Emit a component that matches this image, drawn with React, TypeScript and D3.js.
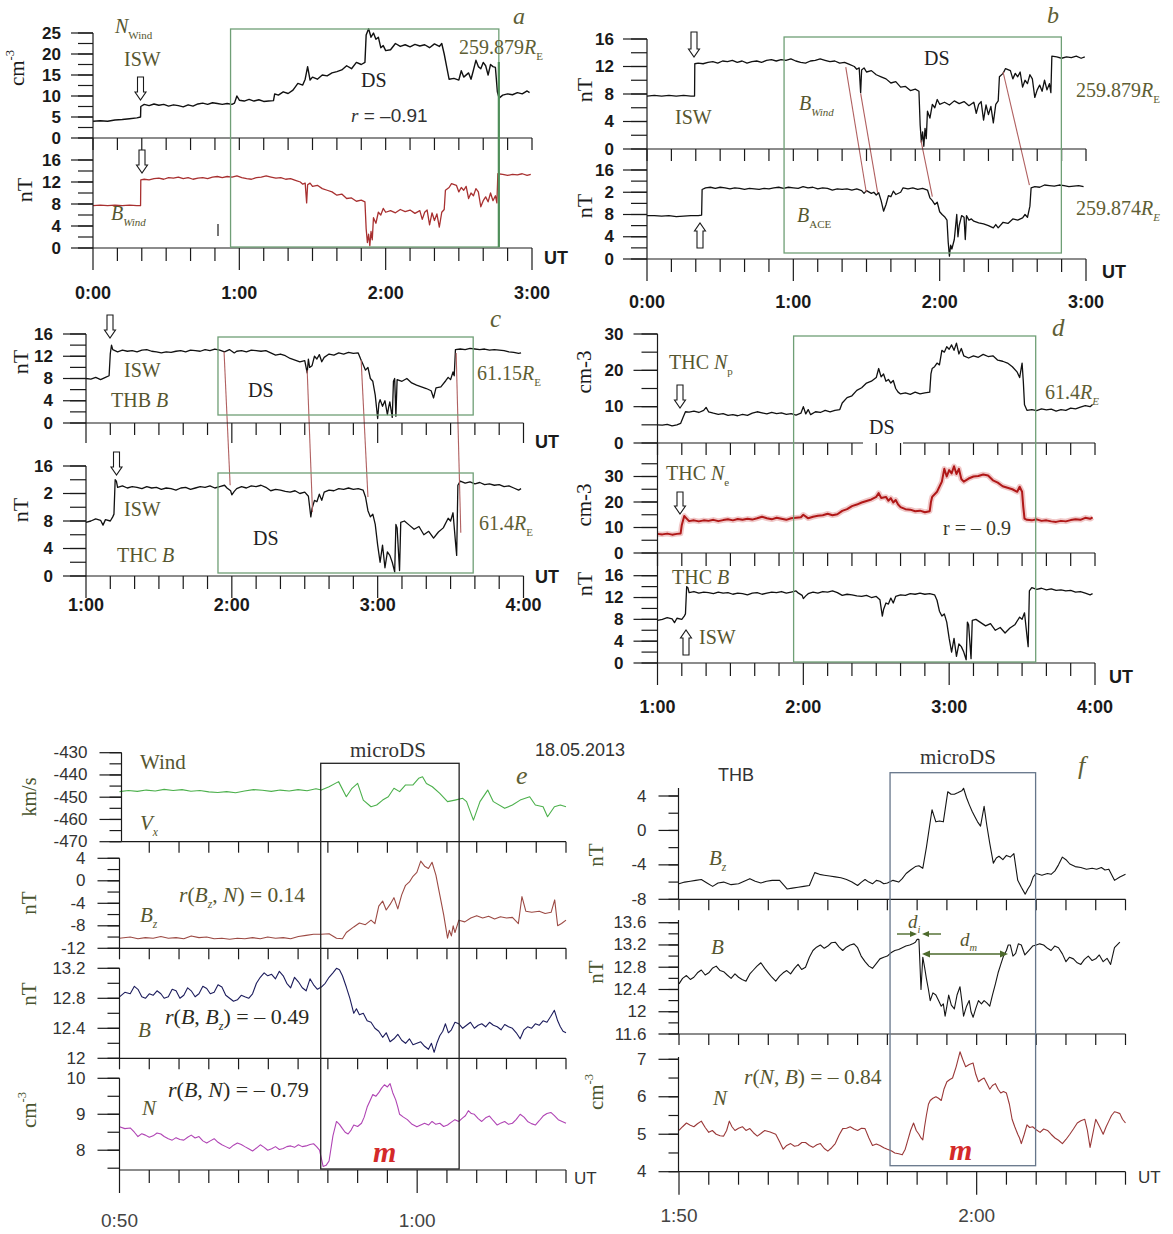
import React from "react";
import * as d3 from "d3";

type Pt = [number, number];

// ---------------- DATA (time in minutes from panel start) ----------------
const nWind: Pt[] = [[0,4.0],[3,4.1],[6,4.0],[9,4.3],[12,4.4],[15,4.6],[18,4.8],[19.5,5.0],[19.6,7.5],[21,8.0],[23,7.7],[25,8.1],[27,7.8],[29,8.0],[31,7.6],[33,7.9],[35,7.7],[37,7.4],[39,7.9],[41,7.6],[43,8.1],[45,8.3],[47,8.0],[49,8.4],[51,8.2],[53,8.0],[55,8.2],[57,8.0],[58,8.3],[59,10.0],[60,9.0],[62,8.8],[64,9.2],[66,8.8],[68,9.1],[70,8.7],[72,8.8],[74,8.9],[74.5,10.5],[76,10.2],[78,11.0],[80,10.6],[82,11.4],[84,13.0],[86,12.6],[87,14.0],[88,17.0],[89,13.8],[90,14.5],[92,14.0],[94,15.0],[96,14.8],[98,15.5],[100,15.8],[102,16.2],[104,17.2],[106,16.5],[108,18.0],[110,17.5],[111.5,18.0],[112,24.5],[113,26],[114,24],[115,25],[116,23.5],[117,24],[118,21.5],[119,22],[120,20.8],[122,21.0],[124,22.5],[126,21.8],[128,22.2],[130,21.7],[132,22.3],[134,21.9],[136,22.2],[138,21.5],[140,22.4],[142,21.8],[143,22.5],[144,20],[145,17],[146,14],[148,14.2],[150,13.8],[151,16],[152,14.5],[154,15.5],[155,14],[156,16.2],[157,18.5],[158,17.0],[159,16.5],[160,18.0],[161,17.2],[162,15.0],[163,17.5],[164,17.0],[165,16.8],[165.8,11],[166.5,9.5],[168,10.2],[170,10.5],[172,10.3],[174,10.8],[176,10.5],[178,11.2],[179,10.8]];

const bWind: Pt[] = [[0,7.7],[3,7.8],[6,7.7],[9,7.8],[12,7.7],[15,7.8],[18,7.7],[19.5,7.7],[19.6,12.4],[21,12.5],[23,12.4],[25,12.6],[27,12.7],[29,12.5],[31,12.8],[33,12.7],[35,12.9],[37,12.6],[39,12.8],[41,12.5],[43,12.7],[45,12.8],[47,12.6],[49,12.9],[51,13.0],[53,12.8],[55,13.0],[57,12.9],[59,13.1],[61,12.8],[63,12.6],[65,12.5],[67,12.8],[69,12.9],[71,13.1],[73,12.9],[75,12.7],[77,12.8],[79,12.5],[81,12.6],[83,12.3],[85,12.0],[86,11.6],[87,11.8],[87.6,8.2],[88,11.5],[89,11.8],[90,11.2],[92,11.4],[94,10.8],[96,10.5],[98,10.2],[100,9.6],[102,9.8],[104,9.0],[106,9.1],[108,8.5],[110,8.7],[111.5,8.4],[112,3.5],[112.5,1.0],[113,2.5],[113.5,0.4],[114,3.0],[114.5,1.5],[115,5.5],[116,4.5],[117,6.5],[118,6.0],[119,7.2],[120,6.5],[122,6.8],[124,6.4],[126,7.0],[128,6.6],[130,6.9],[132,6.3],[134,6.8],[135,5.2],[136,6.5],[137,6.9],[138,4.2],[139,6.4],[140,5.0],[141,6.2],[142,3.8],[143,6.5],[144,7.0],[144.5,10.5],[146,11.0],[147,11.7],[149,11.4],[150,10.2],[151,11.0],[152,10.5],[153,11.2],[154,9.0],[155,10.0],[156,9.5],[157,10.8],[158,10.2],[159,7.5],[160,8.6],[161,9.3],[162,8.4],[163,10.0],[164,8.6],[165,9.5],[165.6,8.2],[166,13.5],[168,13.4],[170,13.2],[172,13.4],[174,13.3],[176,13.5],[178,13.2],[179.5,13.4]];

const bAce: Pt[] = [[0,7.8],[3,7.8],[6,7.7],[9,7.8],[12,7.6],[15,7.7],[18,7.8],[21,7.8],[22.4,7.9],[22.6,12.5],[24,12.8],[26,12.9],[28,12.7],[30,12.9],[32,12.8],[34,12.6],[36,12.8],[38,12.7],[40,12.5],[42,12.7],[44,12.6],[46,12.5],[48,12.7],[50,12.6],[52,12.8],[54,12.9],[56,12.7],[58,12.9],[60,12.8],[62,12.7],[64,13.0],[66,12.8],[68,12.9],[70,12.6],[72,12.8],[74,12.7],[76,12.4],[78,12.6],[80,12.5],[82,12.6],[84,12.4],[86,12.6],[88,12.3],[89,11.8],[90,12.3],[92,11.8],[93,12.0],[94,11.5],[95,11.9],[96,10.5],[97,8.6],[98,9.8],[99,11.4],[100,11.2],[101,12.2],[102,11.6],[104,12.0],[105,12.8],[107,12.6],[109,12.8],[111,12.5],[113,12.7],[115,12.4],[116,11.0],[117,10.5],[118,9.8],[119,10.2],[120,8.5],[121,8.0],[122,7.6],[123,7.0],[123.5,3.0],[124,0.5],[124.5,2.5],[125,1.8],[126,3.5],[127,8],[127.5,4.0],[128,6],[129,7.8],[130,7.5],[130.5,3.5],[131,7.8],[132,7.0],[133,7.2],[134,6.8],[136,6.5],[138,6.3],[140,6.0],[142,5.6],[143,6.2],[144,5.6],[146,6.6],[148,6.4],[150,7.2],[152,7.0],[154,7.4],[155,8.0],[156,7.5],[157,9.5],[157.5,12.8],[159,13.0],[161,12.9],[163,13.3],[165,13.2],[167,13.1],[169,13.3],[171,13.2],[173,13.0],[175,13.1],[177,13.2],[179,13.0]];

const thbB: Pt[] = [[0,8.0],[2,7.9],[4,8.2],[6,7.8],[8,8.2],[9.5,8.5],[10,12.5],[10.5,14.0],[11,13.2],[13,12.8],[15,13.1],[17,12.9],[19,13.0],[21,12.8],[23,13.1],[25,13.2],[27,12.9],[29,12.8],[31,12.6],[33,12.8],[35,12.7],[37,12.9],[39,13.0],[41,12.8],[43,13.1],[45,13.0],[47,12.9],[49,13.2],[51,13.0],[53,13.3],[55,13.1],[57,12.8],[59,13.2],[61,12.6],[62,12.9],[64,13.0],[66,12.8],[68,13.1],[70,13.0],[72,12.9],[74,13.0],[76,12.6],[78,12.2],[80,12.4],[82,12.1],[84,11.6],[86,11.3],[88,11.0],[90,11.2],[91,9.0],[91.5,11.5],[92,10.0],[93,10.3],[94,12.0],[95,11.5],[96,12.3],[97,11.0],[98,11.8],[100,12.4],[102,12.2],[104,12.6],[106,12.4],[108,12.7],[110,12.5],[112,12.6],[113,11.5],[114,10.5],[115,9.5],[116,10.0],[117,8.0],[118,7.5],[119,5.0],[120,0.8],[120.5,3.5],[121,4.2],[122,3.0],[123,4.0],[124,1.5],[124.5,2.8],[125,3.8],[126,1.0],[126.5,7.5],[127,8.0],[127.5,1.2],[128,7.8],[130,7.5],[132,8.0],[134,7.2],[136,6.8],[138,6.5],[140,6.2],[142,5.8],[143,4.5],[144,6.3],[146,6.5],[148,7.6],[149,8.2],[150,7.8],[151,9.2],[151.5,8.5],[152,13.2],[154,13.3],[156,13.2],[158,13.4],[160,13.3],[162,13.2],[164,13.3],[166,13.1],[168,13.2],[170,13.1],[172,13.0],[174,12.8],[176,12.7],[178,12.5],[179,12.6]];

const thcB: Pt[] = [[0,7.8],[2,8.0],[4,8.3],[6,8.1],[7,7.4],[8,8.2],[10,8.0],[11,8.6],[11.5,9.0],[12,14.0],[12.5,13.8],[13,12.9],[15,13.1],[17,12.8],[19,13.0],[21,12.9],[23,12.7],[25,13.0],[27,12.8],[29,12.9],[31,12.6],[33,12.8],[35,12.7],[37,12.5],[39,12.8],[41,12.9],[43,12.6],[45,12.8],[47,13.0],[49,12.9],[51,13.1],[53,12.8],[55,13.0],[57,13.2],[58,12.8],[59.5,12.4],[60,11.8],[61,12.3],[62,12.7],[64,13.0],[66,12.8],[68,13.1],[70,13.0],[72,13.2],[74,12.9],[76,12.4],[78,12.6],[80,12.5],[82,12.3],[84,12.2],[86,12.4],[88,12.0],[90,12.2],[91.5,11.6],[92.5,8.6],[93,9.8],[94,11.0],[95,10.8],[96,11.9],[97,11.0],[98,12.2],[100,12.5],[102,12.4],[104,12.7],[106,12.6],[108,12.8],[110,12.6],[112,12.7],[114,12.5],[115,11.5],[116,9.5],[117,8.6],[118,9.0],[119,7.5],[120,4.5],[121,2.0],[122,4.5],[123,1.2],[124,3.5],[125,3.0],[126,2.0],[127,0.6],[127.5,7.5],[128,7.0],[129,0.8],[129.5,7.8],[131,8.0],[133,7.4],[135,6.8],[137,7.2],[139,6.0],[141,6.5],[143,5.5],[145,6.4],[147,7.0],[149,8.4],[150,8.0],[151,9.2],[152,5.0],[152.5,3.0],[153,13.2],[154,13.8],[156,13.5],[158,13.7],[160,13.4],[162,13.6],[164,13.3],[166,13.4],[168,13.2],[170,13.3],[172,13.0],[174,13.1],[176,12.8],[178,12.5],[179,12.7]];

const thcNp: Pt[] = [[0,5.0],[2,4.9],[4,5.1],[6,4.7],[8,5.0],[9.5,5.4],[10.5,7.0],[11.5,8.6],[13,8.5],[15,8.8],[17,8.4],[19,9.0],[20,9.8],[21,8.6],[23,8.2],[25,7.9],[27,8.1],[29,7.6],[31,7.8],[33,7.5],[35,7.9],[37,7.6],[39,8.2],[41,8.6],[43,8.3],[45,8.0],[47,8.4],[49,8.1],[51,8.3],[53,7.9],[55,8.1],[57,7.7],[59,8.2],[60,10.0],[61,8.0],[62,9.2],[63,7.8],[65,8.6],[67,8.4],[69,9.0],[71,8.6],[73,9.0],[75,9.2],[76,11.0],[78,12.5],[80,13.0],[82,14.5],[84,15.2],[86,16.5],[88,17.0],[90,18.0],[91,20.5],[92,18.2],[93,19.0],[94,17.0],[95,17.5],[96,16.5],[97,17.2],[98,15.0],[99,14.0],[100,13.5],[102,13.8],[104,13.4],[106,14.0],[108,13.5],[110,13.8],[112,14.0],[112.5,19],[113,20.5],[114,21.0],[115,22.0],[116,21.5],[117,25.5],[118,25.0],[119,26.5],[120,25.8],[121,27],[122,25.5],[123,27.5],[124,24.5],[125,26],[126,24.0],[128,23.4],[130,24.0],[132,23.6],[134,24.4],[136,23.8],[138,24.0],[140,22.8],[142,22.5],[144,22.0],[146,21.0],[148,19.5],[149,18],[150,22],[150.5,17],[151,10.5],[152,9.0],[154,9.2],[156,8.9],[158,9.4],[160,9.1],[162,9.3],[164,8.8],[166,9.2],[168,9.0],[170,9.6],[172,9.4],[174,9.9],[176,10.3],[178,10.0],[179,10.6]];

const thcNe: Pt[] = [[0,7.5],[2,7.3],[4,7.6],[6,7.2],[8,7.5],[9.5,7.6],[10,11],[11,14.5],[12,13.5],[13,12.5],[15,12.8],[17,12.4],[19,12.8],[21,12.6],[23,13.0],[25,12.5],[27,12.9],[29,13.2],[31,12.8],[33,13.3],[35,13.0],[37,13.4],[39,13.1],[41,13.6],[43,14.2],[45,13.6],[47,13.2],[49,13.8],[51,13.4],[53,13.0],[55,13.6],[57,13.8],[59,14.0],[60,15.0],[62,13.6],[64,14.2],[66,14.6],[68,14.8],[70,15.4],[72,14.8],[74,15.2],[76,16.5],[78,17.2],[80,18.4],[82,19.0],[84,19.8],[86,20.4],[88,21.0],[90,22.0],[91,23.5],[92,21.6],[94,22.0],[95,20.5],[96,21.5],[97,19.8],[98,20.8],[99,19.0],[100,18.0],[102,17.2],[104,17.0],[106,16.4],[108,16.6],[110,16.0],[112,16.4],[112.5,20.0],[113,22.0],[115,24.0],[117,28],[118,33],[119,30],[120,32.5],[121,31.2],[122,34],[123,31],[124,33],[125,29],[126,28],[128,29.2],[130,30.0],[132,30.2],[134,30.8],[136,30.4],[138,28.5],[140,27.6],[142,26.2],[144,25.6],[146,25.0],[148,24.0],[149,26],[150,24.0],[150.5,18],[151,13.5],[152,13.0],[154,12.8],[156,13.2],[158,12.6],[160,12.8],[162,12.4],[164,12.2],[166,12.6],[168,12.4],[170,12.9],[172,13.2],[174,13.0],[176,13.8],[178,13.4],[179,14.0]];

const eVx: Pt[] = [[0,-447.5],[0.3,-447],[0.6,-447.4],[0.9,-446.8],[1.2,-447.2],[1.5,-446.5],[1.8,-447],[2.1,-446.6],[2.4,-447.3],[2.7,-447],[3.0,-447.6],[3.3,-447.9],[3.6,-447.5],[3.9,-448],[4.2,-447.2],[4.5,-446.6],[4.8,-446.9],[5.1,-447.4],[5.4,-446.8],[5.7,-447.2],[6.0,-446.6],[6.3,-447.1],[6.6,-446.2],[6.78,-446.8],[7.04,-445.3],[7.36,-443],[7.62,-449.8],[7.81,-446],[8.0,-443.8],[8.19,-451.3],[8.45,-454.3],[8.64,-453.5],[8.84,-451.3],[9.03,-449.8],[9.22,-446],[9.41,-447.5],[9.61,-444.5],[9.86,-444.5],[10.05,-441.5],[10.18,-440.8],[10.31,-443.8],[10.51,-445.3],[10.76,-448.3],[11.02,-452],[11.27,-451.3],[11.53,-450.5],[11.66,-452],[11.89,-460.3],[12.11,-452],[12.37,-446.8],[12.56,-452],[12.94,-455],[13.2,-453.5],[13.46,-451.3],[13.78,-449.8],[13.97,-453.5],[14.23,-454.3],[14.38,-458.8],[14.61,-454.3],[14.81,-453.5],[15.0,-454.3]];

const eBz: Pt[] = [[0,-10.2],[0.36,-10.0],[0.62,-10.3],[0.87,-10.1],[1.13,-10.2],[1.39,-9.9],[1.64,-10.2],[1.9,-10.1],[2.16,-10.3],[2.41,-9.8],[2.67,-10.1],[2.93,-10.0],[3.18,-10.3],[3.44,-10.2],[3.7,-10.4],[3.96,-10.2],[4.21,-10.3],[4.47,-10.1],[4.73,-10.3],[4.98,-10.0],[5.24,-10.2],[5.5,-10.1],[5.75,-10.3],[6.01,-9.9],[6.27,-9.7],[6.52,-9.5],[6.78,-9.5],[7.04,-9.4],[7.29,-10.2],[7.49,-10.3],[7.62,-9.2],[7.87,-8.2],[8.06,-7.5],[8.26,-7.8],[8.45,-7.0],[8.58,-7.6],[8.71,-4.5],[8.84,-3.6],[8.96,-5.2],[9.09,-4.2],[9.22,-3.0],[9.35,-5.0],[9.48,-2.5],[9.61,-0.8],[9.74,-0.2],[9.86,0.8],[9.99,1.5],[10.12,3.5],[10.25,2.6],[10.38,2.2],[10.5,3.3],[10.63,1.0],[10.76,-2.5],[10.89,-6.0],[11.02,-10.2],[11.08,-8.8],[11.15,-9.8],[11.21,-8.0],[11.27,-9.2],[11.4,-7.0],[11.6,-7.3],[11.8,-6.6],[12.0,-6.2],[12.2,-6.6],[12.4,-6.3],[12.6,-6.8],[12.8,-6.4],[13.0,-6.6],[13.2,-6.5],[13.4,-7.6],[13.52,-2.8],[13.65,-5.4],[13.85,-5.6],[14.1,-5.4],[14.3,-5.8],[14.5,-5.6],[14.62,-3.4],[14.72,-8.0],[14.85,-7.6],[15.0,-7.0]];

const eB: Pt[] = [[0,12.82],[0.18,12.88],[0.36,12.86],[0.5,12.96],[0.62,12.92],[0.75,12.82],[0.87,12.8],[1.0,12.86],[1.13,12.84],[1.26,12.9],[1.39,12.86],[1.5,12.8],[1.64,12.82],[1.77,12.92],[1.9,12.9],[2.03,12.8],[2.16,12.84],[2.29,12.94],[2.41,12.9],[2.54,12.82],[2.67,12.86],[2.8,12.96],[2.93,12.93],[3.05,12.86],[3.18,12.88],[3.31,12.98],[3.44,12.95],[3.57,12.84],[3.7,12.8],[3.83,12.76],[3.96,12.78],[4.09,12.84],[4.21,12.82],[4.34,12.8],[4.47,12.86],[4.6,13.0],[4.73,13.08],[4.86,13.14],[4.98,13.1],[5.11,13.12],[5.24,13.06],[5.37,13.16],[5.5,13.1],[5.62,13.0],[5.75,12.94],[5.88,13.08],[6.01,13.02],[6.14,12.94],[6.27,12.9],[6.4,13.06],[6.52,12.98],[6.65,12.92],[6.78,12.95],[6.91,13.0],[7.04,13.08],[7.17,13.14],[7.29,13.2],[7.39,13.18],[7.49,13.1],[7.62,12.95],[7.74,12.8],[7.87,12.6],[7.96,12.66],[8.06,12.58],[8.19,12.6],[8.32,12.5],[8.45,12.48],[8.58,12.4],[8.71,12.36],[8.84,12.28],[8.96,12.34],[9.09,12.22],[9.22,12.26],[9.35,12.32],[9.48,12.24],[9.61,12.2],[9.74,12.26],[9.86,12.18],[9.99,12.2],[10.12,12.22],[10.25,12.16],[10.38,12.12],[10.48,12.2],[10.57,12.08],[10.66,12.2],[10.76,12.3],[10.86,12.36],[10.95,12.46],[11.05,12.34],[11.15,12.38],[11.27,12.48],[11.4,12.46],[11.53,12.4],[11.66,12.44],[11.79,12.48],[11.92,12.4],[12.05,12.44],[12.17,12.46],[12.3,12.42],[12.43,12.48],[12.56,12.44],[12.69,12.42],[12.82,12.38],[12.94,12.45],[13.07,12.42],[13.2,12.4],[13.33,12.34],[13.46,12.26],[13.59,12.38],[13.71,12.42],[13.84,12.4],[13.97,12.46],[14.1,12.44],[14.23,12.5],[14.36,12.48],[14.49,12.56],[14.61,12.64],[14.72,12.5],[14.81,12.42],[14.9,12.36],[15,12.34]];

const eN: Pt[] = [[0,8.65],[0.18,8.6],[0.36,8.62],[0.5,8.5],[0.62,8.38],[0.75,8.46],[0.87,8.42],[1.0,8.36],[1.13,8.4],[1.26,8.48],[1.39,8.45],[1.5,8.38],[1.64,8.32],[1.77,8.28],[1.9,8.35],[2.03,8.3],[2.16,8.28],[2.29,8.36],[2.41,8.42],[2.54,8.34],[2.67,8.38],[2.8,8.26],[2.93,8.2],[3.05,8.26],[3.18,8.32],[3.31,8.22],[3.44,8.15],[3.57,8.1],[3.7,8.05],[3.83,8.14],[3.96,8.2],[4.09,8.16],[4.21,8.1],[4.34,8.04],[4.47,7.98],[4.6,8.06],[4.73,8.15],[4.86,8.08],[4.98,8.0],[5.11,8.04],[5.24,8.1],[5.37,8.02],[5.5,8.05],[5.62,8.1],[5.75,8.12],[5.88,8.08],[6.01,8.15],[6.14,8.1],[6.27,8.12],[6.4,8.16],[6.52,8.18],[6.62,8.1],[6.72,8.0],[6.84,7.55],[6.94,7.58],[7.04,7.7],[7.17,8.4],[7.29,8.8],[7.39,8.72],[7.49,8.6],[7.58,8.5],[7.68,8.45],[7.78,8.56],[7.87,8.7],[8.0,8.66],[8.13,8.75],[8.22,8.92],[8.32,9.2],[8.42,9.38],[8.51,9.55],[8.61,9.5],[8.71,9.6],[8.8,9.72],[8.9,9.82],[9.0,9.76],[9.09,9.85],[9.18,9.6],[9.28,9.4],[9.35,9.2],[9.41,9.0],[9.54,8.92],[9.67,8.85],[9.83,8.72],[9.99,8.65],[10.12,8.7],[10.25,8.75],[10.38,8.7],[10.5,8.8],[10.63,8.72],[10.76,8.75],[10.89,8.66],[11.02,8.7],[11.15,8.78],[11.27,8.85],[11.4,8.8],[11.53,8.9],[11.62,8.96],[11.72,9.1],[11.82,9.02],[11.92,9.0],[12.05,8.88],[12.17,8.8],[12.3,8.9],[12.43,8.95],[12.56,8.82],[12.69,8.7],[12.82,8.76],[12.94,8.8],[13.07,8.72],[13.2,8.75],[13.33,8.86],[13.46,9.0],[13.59,8.92],[13.71,8.8],[13.84,8.74],[13.97,8.7],[14.1,8.82],[14.23,8.95],[14.36,9.02],[14.49,9.05],[14.61,8.96],[14.74,8.85],[14.87,8.8],[15,8.75]];

const fBz: Pt[] = [[0,-6.2],[0.19,-6.0],[0.38,-5.9],[0.56,-5.8],[0.75,-5.7],[0.94,-6.1],[1.13,-6.5],[1.31,-6.1],[1.5,-6.0],[1.75,-6.3],[2.0,-6.2],[2.19,-5.9],[2.38,-5.6],[2.56,-5.9],[2.75,-6.1],[2.94,-5.9],[3.13,-5.8],[3.38,-5.8],[3.63,-6.8],[3.81,-6.7],[4.0,-6.6],[4.19,-6.5],[4.38,-6.4],[4.56,-4.9],[4.72,-5.1],[4.88,-5.2],[5.06,-5.3],[5.25,-5.4],[5.44,-5.5],[5.63,-5.7],[5.81,-6.0],[6.0,-6.4],[6.13,-6.0],[6.25,-5.7],[6.38,-6.0],[6.5,-6.2],[6.63,-5.8],[6.75,-5.9],[6.88,-6.2],[7.0,-6.1],[7.19,-5.8],[7.38,-6.0],[7.5,-5.6],[7.63,-5.0],[7.78,-4.6],[7.94,-4.2],[8.06,-4.1],[8.19,-4.4],[8.31,-2.0],[8.5,2.4],[8.63,1.0],[8.75,1.1],[8.88,1.0],[9.03,4.5],[9.14,4.2],[9.25,4.2],[9.38,4.4],[9.5,4.6],[9.56,4.9],[9.66,3.8],[9.75,3.0],[9.85,2.2],[9.94,1.6],[10.03,1.0],[10.13,0.5],[10.25,2.8],[10.34,0.6],[10.44,-1.5],[10.56,-3.8],[10.66,-3.2],[10.75,-3.0],[10.88,-3.4],[11.0,-2.9],[11.13,-3.1],[11.25,-2.7],[11.38,-5.8],[11.5,-6.6],[11.63,-7.4],[11.72,-6.8],[11.81,-6.3],[11.9,-5.4],[12.0,-5.0],[12.19,-5.2],[12.38,-5.0],[12.5,-5.1],[12.63,-4.7],[12.75,-4.0],[12.88,-3.1],[13.0,-3.4],[13.13,-3.9],[13.31,-4.2],[13.5,-4.3],[13.69,-4.5],[13.88,-4.4],[14.03,-4.5],[14.19,-4.3],[14.31,-4.6],[14.44,-4.5],[14.63,-5.8],[14.81,-5.4],[15.0,-5.1]];

const fB: Pt[] = [[0,12.5],[0.12,12.6],[0.25,12.65],[0.38,12.58],[0.5,12.62],[0.62,12.7],[0.75,12.75],[0.88,12.66],[1.0,12.7],[1.12,12.78],[1.25,12.82],[1.38,12.74],[1.5,12.72],[1.62,12.66],[1.75,12.6],[1.88,12.68],[2.0,12.62],[2.12,12.58],[2.25,12.55],[2.38,12.68],[2.5,12.75],[2.62,12.82],[2.75,12.88],[2.88,12.78],[3.0,12.7],[3.12,12.62],[3.25,12.55],[3.38,12.64],[3.5,12.7],[3.62,12.74],[3.75,12.68],[3.88,12.78],[4.0,12.85],[4.12,12.76],[4.25,12.8],[4.38,12.98],[4.5,13.1],[4.62,13.16],[4.75,13.2],[4.88,13.14],[5.0,13.18],[5.12,13.24],[5.25,13.25],[5.38,13.16],[5.5,13.1],[5.62,13.16],[5.75,13.2],[5.88,13.22],[6.0,13.15],[6.12,13.0],[6.25,12.9],[6.38,12.82],[6.5,12.78],[6.62,12.86],[6.75,12.95],[6.88,12.98],[7.0,13.0],[7.12,13.06],[7.25,13.1],[7.38,13.12],[7.5,13.15],[7.62,13.18],[7.75,13.2],[7.85,13.22],[7.94,13.25],[8.0,13.3],[8.06,13.3],[8.13,12.4],[8.19,12.98],[8.25,12.8],[8.31,12.6],[8.38,12.4],[8.44,12.2],[8.53,12.34],[8.63,12.3],[8.72,12.2],[8.81,12.1],[8.88,12.14],[8.94,11.92],[9.0,12.1],[9.06,12.3],[9.15,12.12],[9.25,12.05],[9.34,12.3],[9.44,12.45],[9.5,12.2],[9.56,11.92],[9.66,12.1],[9.75,12.2],[9.81,12.0],[9.88,11.9],[9.97,12.06],[10.06,12.2],[10.16,12.14],[10.25,12.2],[10.34,12.16],[10.44,12.1],[10.53,12.3],[10.63,12.5],[10.72,12.7],[10.81,12.85],[10.9,13.0],[11.0,13.1],[11.06,13.2],[11.13,13.2],[11.22,13.0],[11.31,13.05],[11.4,13.22],[11.5,13.2],[11.62,13.02],[11.75,13.1],[11.88,13.18],[12.0,13.2],[12.12,13.22],[12.25,13.2],[12.38,13.14],[12.5,13.1],[12.62,13.18],[12.75,13.15],[12.88,13.04],[13.0,12.9],[13.12,12.98],[13.25,12.95],[13.38,12.88],[13.5,12.85],[13.62,12.94],[13.75,13.0],[13.88,12.92],[14.0,12.95],[14.12,13.02],[14.25,12.9],[14.38,12.96],[14.5,12.85],[14.63,13.15],[14.72,13.2],[14.81,13.25]];

const fN: Pt[] = [[0,5.1],[0.12,5.2],[0.25,5.3],[0.38,5.24],[0.5,5.2],[0.62,5.28],[0.75,5.35],[0.88,5.18],[1.0,5.05],[1.12,5.1],[1.25,5.0],[1.38,4.96],[1.5,4.95],[1.6,5.1],[1.69,5.35],[1.78,5.2],[1.88,5.1],[2.0,5.16],[2.13,5.2],[2.25,5.1],[2.38,5.15],[2.5,5.04],[2.63,4.95],[2.75,5.02],[2.88,5.1],[3.06,5.06],[3.25,5.0],[3.38,4.8],[3.5,4.6],[3.62,4.7],[3.75,4.75],[3.88,4.68],[4.0,4.7],[4.13,4.78],[4.25,4.78],[4.38,4.7],[4.5,4.65],[4.63,4.72],[4.75,4.75],[4.88,4.62],[5.0,4.55],[5.13,4.64],[5.25,4.75],[5.38,4.98],[5.5,5.15],[5.63,5.16],[5.75,5.2],[5.88,5.14],[6.0,5.1],[6.13,5.16],[6.25,5.15],[6.38,4.9],[6.5,4.7],[6.63,4.74],[6.75,4.7],[6.88,4.64],[7.0,4.6],[7.13,4.56],[7.25,4.5],[7.38,4.48],[7.5,4.45],[7.6,4.6],[7.69,4.85],[7.78,5.1],[7.88,5.3],[7.97,5.1],[8.06,5.0],[8.13,4.9],[8.19,4.85],[8.25,5.2],[8.31,5.5],[8.38,5.8],[8.44,5.9],[8.53,5.96],[8.63,6.0],[8.72,5.96],[8.81,5.9],[8.9,6.2],[9.0,6.4],[9.1,6.46],[9.19,6.5],[9.31,6.8],[9.44,7.2],[9.53,7.0],[9.63,6.8],[9.75,6.86],[9.88,6.9],[9.97,6.6],[10.06,6.4],[10.16,6.46],[10.25,6.5],[10.34,6.36],[10.44,6.2],[10.53,6.3],[10.63,6.35],[10.72,6.2],[10.81,6.1],[10.9,6.14],[11.0,6.1],[11.1,5.8],[11.19,5.4],[11.28,5.2],[11.38,5.0],[11.44,4.9],[11.5,4.75],[11.6,5.0],[11.69,5.25],[11.78,5.18],[11.88,5.2],[12.0,5.12],[12.13,5.05],[12.25,5.14],[12.38,5.1],[12.5,5.0],[12.63,4.9],[12.75,4.84],[12.88,4.75],[13.0,4.86],[13.13,5.0],[13.25,5.14],[13.38,5.3],[13.5,5.36],[13.63,5.4],[13.72,5.1],[13.81,4.65],[13.9,5.0],[14.0,5.4],[14.13,5.2],[14.25,5.0],[14.35,5.2],[14.44,5.35],[14.53,5.5],[14.63,5.6],[14.72,5.58],[14.81,5.55],[14.9,5.4],[15.0,5.3]];

// tick / label arrays
const hoursAB = ["0:00", "1:00", "2:00", "3:00"];
const hoursCD = ["1:00", "2:00", "3:00", "4:00"];
const timesE = ["0:50", "1:00"];
const timesF = ["1:50", "2:00"];
const ticksN25 = [0, 5, 10, 15, 20, 25];
const ticksB16 = [0, 4, 8, 12, 16];
const labelsB16cut = ["0", "4", "8", "2", "16"];
const ticksN30 = [0, 10, 20, 30];
const ticksVx = [-470, -460, -450, -440, -430];
const ticksBzE = [-12, -8, -4, 0, 4];
const ticksBE = [12, 12.4, 12.8, 13.2];
const ticksNE = [8, 9, 10];
const ticksBzF = [-8, -4, 0, 4];
const ticksBF = [11.6, 12, 12.4, 12.8, 13.2, 13.6];
const ticksNF = [4, 5, 6, 7];

// DS / microDS intervals (minutes)
const dsA: Pt = [56.4, 166.4];
const dsB: Pt = [56.2, 169.9];
const dsC: Pt = [54.3, 159.3];
const dsD: Pt = [56.0, 155.6];
const mdsE: Pt = [6.76, 11.41];
const mdsF: Pt = [7.09, 11.98];

// connector lines [tTop, vTop, tBottom, vBottom]
const linksB = [[81.5, 11.9, 89.9, 12.0], [87.6, 8.1, 94.6, 11.9], [112.3, 1.3, 117, 11.2], [146, 11.2, 156.8, 13.3]];
const linksC = [[56.8, 12.8, 59.3, 13.2], [91, 9.5, 93.2, 9.3], [113.2, 11.3, 116, 11.5], [152.3, 12.6, 154.2, 6.3]];

// ---------------- helpers ----------------
const SANS = "'Liberation Sans', Arial, sans-serif";
const SERIF = "'Liberation Serif', 'Times New Roman', serif";
const OLIVE = "#56562f";
const GREEN = "#6f9f76";
const INK = "#1a1a1a";

type Scale = d3.ScaleLinear<number, number>;

function Series({ data, x, y, color, width = 1.2, glow }: { data: Pt[]; x: Scale; y: Scale; color: string; width?: number; glow?: string }) {
  const d = d3.line<Pt>().x((p) => x(p[0])).y((p) => y(p[1]))(data) || "";
  return (
    <g>
      {glow && <path d={d} fill="none" stroke={glow} strokeWidth={width + 3.5} strokeOpacity={0.55} strokeLinejoin="round" />}
      <path d={d} fill="none" stroke={color} strokeWidth={width} strokeLinejoin="round" />
    </g>
  );
}

function YAxis({ x, y, top, bottom, minor, major, labels, bold = true, size = 17, majLen = 22, minLen = 15, gap = 10, color = INK }:
  { x: number; y: Scale; top: number; bottom: number; minor: number[]; major: number[]; labels?: string[]; bold?: boolean; size?: number; majLen?: number; minLen?: number; gap?: number; color?: string }) {
  return (
    <g>
      <line x1={x} x2={x} y1={top} y2={bottom} stroke={INK} strokeWidth={1.2} />
      {minor.map((v, i) => (
        <line key={"m" + i} x1={x - minLen} x2={x} y1={y(v)} y2={y(v)} stroke={INK} strokeWidth={1.2} />
      ))}
      {major.map((v, i) => (
        <g key={"M" + i}>
          <line x1={x - majLen} x2={x} y1={y(v)} y2={y(v)} stroke={INK} strokeWidth={1.2} />
          <text x={x - majLen - gap} y={y(v)} textAnchor="end" dominantBaseline="central" fontFamily={SANS}
            fontWeight={bold ? "bold" : "normal"} fontSize={size} fill={color}>
            {labels ? labels[i] : String(v)}
          </text>
        </g>
      ))}
    </g>
  );
}

function XAxis({ y, x, segs, ticks, majors = [], minLen = 11, majLen = 11 }:
  { y: number; x: Scale; segs: Pt[]; ticks: number[]; majors?: number[]; minLen?: number; majLen?: number }) {
  return (
    <g>
      {segs.map((s, i) => (
        <line key={"s" + i} x1={s[0]} x2={s[1]} y1={y} y2={y} stroke={INK} strokeWidth={1.2} />
      ))}
      {ticks.map((t, i) => (
        <line key={i} x1={x(t)} x2={x(t)} y1={y} y2={y + (majors.includes(t) ? majLen : minLen)} stroke={INK} strokeWidth={1.2} />
      ))}
    </g>
  );
}

type Seg = { t: string; i?: boolean; sub?: boolean; sup?: boolean; b?: boolean; f?: string };
function Rich({ x, y, segs, size = 20, fill = OLIVE, family = SERIF, subScale = 0.55 }:
  { x: number; y: number; segs: Seg[]; size?: number; fill?: string; family?: string; subScale?: number }) {
  let cur = 0;
  return (
    <text x={x} y={y} fontSize={size} fill={fill} fontFamily={family}>
      {segs.map((s, k) => {
        const target = s.sub ? size * 0.28 : s.sup ? -size * 0.4 : 0;
        const dy = target - cur;
        cur = target;
        return (
          <tspan key={k} dy={dy !== 0 ? dy : undefined} fontStyle={s.i ? "italic" : undefined}
            fontWeight={s.b ? "bold" : undefined} fontFamily={s.f}
            fontSize={s.sub || s.sup ? size * subScale : undefined}>
            {s.t}
          </tspan>
        );
      })}
    </text>
  );
}

function VTitle({ x, y, segs, size = 21, fill = INK }: { x: number; y: number; segs: Seg[]; size?: number; fill?: string }) {
  let cur = 0;
  return (
    <text transform={`translate(${x},${y}) rotate(-90)`} textAnchor="middle" dominantBaseline="central" fontFamily={SERIF} fontSize={size} fill={fill}>
      {segs.map((s, k) => {
        const target = s.sup ? -size * 0.35 : 0;
        const dy = target - cur;
        cur = target;
        return (
          <tspan key={k} dy={dy !== 0 ? dy : undefined} fontSize={s.sup ? size * 0.6 : undefined}>{s.t}</tspan>
        );
      })}
    </text>
  );
}

function Arrow({ x, y1, y2, up = false }: { x: number; y1: number; y2: number; up?: boolean }) {
  const h = 8;
  const d = up
    ? `M${x - 3},${y2} L${x + 3},${y2} L${x + 3},${y1 + h} L${x + 5.5},${y1 + h} L${x},${y1} L${x - 5.5},${y1 + h} L${x - 3},${y1 + h} Z`
    : `M${x - 3},${y1} L${x + 3},${y1} L${x + 3},${y2 - h} L${x + 5.5},${y2 - h} L${x},${y2} L${x - 5.5},${y2 - h} L${x - 3},${y2 - h} Z`;
  return <path d={d} fill="#fff" stroke={INK} strokeWidth={1.1} />;
}

function TimeLabels({ x, y, ts, labels, bold = true, size = 18, fill = INK }: { x: Scale; y: number; ts: number[]; labels: string[]; bold?: boolean; size?: number; fill?: string }) {
  return (
    <g>
      {ts.map((t, i) => (
        <text key={i} x={x(t)} y={y} textAnchor="middle" fontFamily={SANS} fontWeight={bold ? "bold" : "normal"} fontSize={size} fill={fill}>
          {labels[i]}
        </text>
      ))}
    </g>
  );
}

const range = (a: number, b: number, s: number) => d3.range(a, b + s / 2, s);

// ---------------- panels ----------------
function PanelA() {
  const x = d3.scaleLinear().domain([0, 180]).range([93, 532]);
  const y1 = d3.scaleLinear().domain([0, 25]).range([138, 33]);
  const y2 = d3.scaleLinear().domain([0, 16]).range([248, 160]);
  const tk = range(0, 180, 10);
  return (
    <g>
      <Series data={nWind} x={x} y={y1} color="#111" width={1.4} />
      <Series data={bWind} x={x} y={y2} color="#a83030" width={1.3} />
      <YAxis x={93} y={y1} top={33} bottom={138} minor={range(0, 25, 2.5)} major={ticksN25} />
      <YAxis x={93} y={y2} top={138} bottom={248} minor={range(0, 16, 2)} major={ticksB16} />
      <XAxis y={138} x={x} segs={[[93, 532]]} ticks={tk} minLen={12} majLen={12} />
      <XAxis y={248} x={x} segs={[[93, 532]]} ticks={tk} majors={[0, 60, 120, 180]} minLen={13} majLen={22} />
      <TimeLabels x={x} y={299} ts={[0, 60, 120, 180]} labels={hoursAB} />
      <text x={544} y={264} fontFamily={SANS} fontWeight="bold" fontSize={18} fill={INK}>UT</text>
      <rect x={x(dsA[0])} y={29} width={x(dsA[1]) - x(dsA[0])} height={218} fill="none" stroke={GREEN} strokeWidth={1.3} />
      <line x1={x(dsA[1])} x2={x(dsA[1])} y1={62} y2={247} stroke="#4f8f5a" strokeWidth={2.2} />
      <line x1={218} x2={218} y1={224} y2={236} stroke={INK} strokeWidth={1.2} />
      <VTitle x={17} y={68} segs={[{ t: "cm" }, { t: "-3", sup: true }]} />
      <VTitle x={24} y={190} segs={[{ t: "nT" }]} size={22} />
      <Rich x={115} y={33} segs={[{ t: "N", i: true }, { t: "Wind", sub: true }]} size={20} />
      <Rich x={124} y={66} segs={[{ t: "ISW" }]} size={20} />
      <Arrow x={140.5} y1={77} y2={100} />
      <Arrow x={142} y1={150} y2={173} />
      <Rich x={361} y={87} segs={[{ t: "DS" }]} size={20} fill="#222" />
      <Rich x={351} y={122} segs={[{ t: "r", i: true }, { t: " = –0.91", f: SANS }]} size={19} fill="#333" />
      <Rich x={459} y={54} segs={[{ t: "259.879" }, { t: "R", i: true }, { t: "E", sub: true }]} size={20} fill="#5e5e34" />
      <Rich x={111} y={220} segs={[{ t: "B", i: true }, { t: "Wind", sub: true, i: true }]} size={20} />
      <Rich x={513} y={24} segs={[{ t: "a", i: true }]} size={24} fill="#5e5e34" />
    </g>
  );
}

function PanelB() {
  const x = d3.scaleLinear().domain([0, 180]).range([647, 1086]);
  const y1 = d3.scaleLinear().domain([0, 16]).range([149, 39]);
  const y2 = d3.scaleLinear().domain([0, 16]).range([259, 170]);
  const tk = range(0, 180, 10);
  return (
    <g>
      <Series data={bWind} x={x} y={y1} color="#111" width={1.3} />
      <Series data={bAce} x={x} y={y2} color="#111" width={1.3} />
      {linksB.map((l, i) => (
        <line key={i} x1={x(l[0])} y1={y1(l[1])} x2={x(l[2])} y2={y2(l[3])} stroke="#b06060" strokeWidth={1.1} />
      ))}
      <YAxis x={647} y={y1} top={39} bottom={149} minor={range(0, 16, 2)} major={ticksB16} majLen={24} minLen={16} gap={9} />
      <YAxis x={647} y={y2} top={149} bottom={259} minor={range(0, 16, 2)} major={ticksB16} labels={labelsB16cut} majLen={24} minLen={16} gap={9} />
      <XAxis y={149} x={x} segs={[[647, 1086]]} ticks={tk} minLen={12} majLen={12} />
      <XAxis y={259} x={x} segs={[[647, 1086]]} ticks={tk} majors={[0, 60, 120, 180]} minLen={13} majLen={22} />
      <TimeLabels x={x} y={308} ts={[0, 60, 120, 180]} labels={hoursAB} />
      <text x={1102} y={278} fontFamily={SANS} fontWeight="bold" fontSize={18} fill={INK}>UT</text>
      <rect x={x(dsB[0])} y={37} width={x(dsB[1]) - x(dsB[0])} height={216} fill="none" stroke={GREEN} strokeWidth={1.3} />
      <VTitle x={584} y={90} segs={[{ t: "nT" }]} size={22} />
      <VTitle x={584} y={206} segs={[{ t: "nT" }]} size={22} />
      <Arrow x={694} y1={32} y2={57} />
      <Arrow x={700} y1={223} y2={248} up />
      <Rich x={924} y={65} segs={[{ t: "DS" }]} size={20} fill="#222" />
      <Rich x={675} y={124} segs={[{ t: "ISW" }]} size={20} />
      <Rich x={799} y={110} segs={[{ t: "B", i: true }, { t: "Wind", sub: true, i: true }]} size={20} />
      <Rich x={1076} y={97} segs={[{ t: "259.879" }, { t: "R", i: true }, { t: "E", sub: true }]} size={20} fill="#5e5e34" />
      <Rich x={797} y={222} segs={[{ t: "B", i: true }, { t: "ACE", sub: true }]} size={20} />
      <Rich x={1076} y={215} segs={[{ t: "259.874" }, { t: "R", i: true }, { t: "E", sub: true, i: true }]} size={20} fill="#5e5e34" />
      <Rich x={1047} y={23} segs={[{ t: "b", i: true }]} size={24} fill="#5e5e34" />
    </g>
  );
}

function PanelC() {
  const x = d3.scaleLinear().domain([0, 180]).range([86, 523.5]);
  const y1 = d3.scaleLinear().domain([0, 16]).range([423, 334]);
  const y2 = d3.scaleLinear().domain([0, 16]).range([576, 466]);
  const tk = range(0, 180, 10);
  return (
    <g>
      <Series data={thbB} x={x} y={y1} color="#111" width={1.3} />
      <Series data={thcB} x={x} y={y2} color="#111" width={1.3} />
      {linksC.map((l, i) => (
        <line key={i} x1={x(l[0])} y1={y1(l[1])} x2={x(l[2])} y2={y2(l[3])} stroke="#b06060" strokeWidth={1.1} />
      ))}
      <YAxis x={86} y={y1} top={334} bottom={423} minor={range(0, 16, 2)} major={ticksB16} majLen={23} minLen={16} gap={10} />
      <YAxis x={86} y={y2} top={466} bottom={576} minor={range(0, 16, 2)} major={ticksB16} labels={labelsB16cut} majLen={23} minLen={16} gap={10} />
      <XAxis y={423} x={x} segs={[[86, 523.5]]} ticks={tk} majors={[0, 60, 120, 180]} minLen={12} majLen={20} />
      <XAxis y={576} x={x} segs={[[86, 523.5]]} ticks={tk} majors={[0, 60, 120, 180]} minLen={13} majLen={22} />
      <TimeLabels x={x} y={611} ts={[0, 60, 120, 180]} labels={hoursCD} />
      <text x={535} y={448} fontFamily={SANS} fontWeight="bold" fontSize={18} fill={INK}>UT</text>
      <text x={535} y={583} fontFamily={SANS} fontWeight="bold" fontSize={18} fill={INK}>UT</text>
      <rect x={x(dsC[0])} y={337} width={x(dsC[1]) - x(dsC[0])} height={78} fill="none" stroke={GREEN} strokeWidth={1.3} />
      <rect x={x(dsC[0])} y={473} width={x(dsC[1]) - x(dsC[0])} height={100} fill="none" stroke={GREEN} strokeWidth={1.3} />
      <VTitle x={20} y={362} segs={[{ t: "nT" }]} size={22} />
      <VTitle x={20} y={510} segs={[{ t: "nT" }]} size={22} />
      <Arrow x={110} y1={315} y2={338} />
      <Arrow x={116.5} y1={452} y2={475} />
      <Rich x={124} y={377} segs={[{ t: "ISW" }]} size={20} />
      <Rich x={111} y={407} segs={[{ t: "THB " }, { t: "B", i: true }]} size={20} />
      <Rich x={248} y={397} segs={[{ t: "DS" }]} size={20} fill="#222" />
      <Rich x={477} y={380} segs={[{ t: "61.15" }, { t: "R", i: true }, { t: "E", sub: true }]} size={20} fill="#5e5e34" />
      <Rich x={124} y={516} segs={[{ t: "ISW" }]} size={20} />
      <Rich x={117} y={562} segs={[{ t: "THC " }, { t: "B", i: true }]} size={20} />
      <Rich x={253} y={545} segs={[{ t: "DS" }]} size={20} fill="#222" />
      <Rich x={479} y={530} segs={[{ t: "61.4" }, { t: "R", i: true }, { t: "E", sub: true }]} size={20} fill="#5e5e34" />
      <Rich x={490} y={327} segs={[{ t: "c", i: true }]} size={25} fill="#5e5e34" />
    </g>
  );
}

function PanelD() {
  const x = d3.scaleLinear().domain([0, 180]).range([657.5, 1095]);
  const y1 = d3.scaleLinear().domain([0, 30]).range([443, 334]);
  const y2 = d3.scaleLinear().domain([0, 30]).range([553, 476.5]);
  const y3 = d3.scaleLinear().domain([0, 16]).range([663, 575.7]);
  const tk = range(0, 180, 10);
  return (
    <g>
      <Series data={thcNp} x={x} y={y1} color="#111" width={1.3} />
      <Series data={thcNe} x={x} y={y2} color="#b01818" width={2.0} glow="#e49a9a" />
      <Series data={thcB} x={x} y={y3} color="#111" width={1.3} />
      <YAxis x={657.5} y={y1} top={334} bottom={443} minor={range(0, 30, 5)} major={ticksN30} majLen={24} minLen={16} gap={10} />
      <YAxis x={657.5} y={y2} top={443} bottom={553} minor={range(0, 35, 5)} major={ticksN30} majLen={24} minLen={16} gap={10} />
      <YAxis x={657.5} y={y3} top={553} bottom={663} minor={range(0, 16, 2)} major={ticksB16} majLen={24} minLen={16} gap={10} />
      <XAxis y={443} x={x} segs={[[657.5, 863], [903, 1095]]} ticks={tk} minLen={12} majLen={12} />
      <XAxis y={553} x={x} segs={[[657.5, 1095]]} ticks={tk} minLen={13} majLen={13} />
      <XAxis y={663} x={x} segs={[[657.5, 1095]]} ticks={tk} majors={[0, 60, 120, 180]} minLen={13} majLen={22} />
      <TimeLabels x={x} y={713} ts={[0, 60, 120, 180]} labels={hoursCD} />
      <text x={1109} y={683} fontFamily={SANS} fontWeight="bold" fontSize={18} fill={INK}>UT</text>
      <rect x={x(dsD[0])} y={336} width={x(dsD[1]) - x(dsD[0])} height={326} fill="none" stroke={GREEN} strokeWidth={1.3} />
      <VTitle x={584} y={372} segs={[{ t: "cm-3" }]} size={21} />
      <VTitle x={584} y={505} segs={[{ t: "cm-3" }]} size={21} />
      <VTitle x={584} y={584} segs={[{ t: "nT" }]} size={22} />
      <Rich x={669} y={369} segs={[{ t: "THC " }, { t: "N", i: true }, { t: "p", sub: true }]} size={20} />
      <Rich x={1045} y={399} segs={[{ t: "61.4" }, { t: "R", i: true }, { t: "E", sub: true, i: true }]} size={20} fill="#5e5e34" />
      <Arrow x={680} y1={385} y2={408} />
      <Rich x={869} y={434} segs={[{ t: "DS" }]} size={20} fill="#222" />
      <Rich x={666} y={480} segs={[{ t: "THC " }, { t: "N", i: true }, { t: "e", sub: true }]} size={20} />
      <Arrow x={680} y1={492} y2={514} />
      <Rich x={943} y={535} segs={[{ t: "r = – 0.9" }]} size={20} fill="#3a3a2a" />
      <Rich x={672} y={584} segs={[{ t: "THC " }, { t: "B", i: true }]} size={20} />
      <Rich x={699} y={644} segs={[{ t: "ISW" }]} size={20} />
      <Arrow x={686} y1={630} y2={655} up />
      <Rich x={1052} y={336} segs={[{ t: "d", i: true }]} size={25} fill="#5e5e34" />
    </g>
  );
}

function PanelE() {
  const x = d3.scaleLinear().domain([0, 15]).range([119.5, 566]);
  const y1 = d3.scaleLinear().domain([-470, -430]).range([841.7, 752.7]);
  const y2 = d3.scaleLinear().domain([-12, 4]).range([948.3, 858.3]);
  const y3 = d3.scaleLinear().domain([12, 13.2]).range([1058.3, 968.3]);
  const y4 = d3.scaleLinear().domain([7.45, 10]).range([1170, 1078.3]);
  const tk = range(0, 15, 1);
  const ax = { bold: false, size: 17, majLen: 22, minLen: 12, gap: 12, color: "#333" };
  return (
    <g>
      <Series data={eVx} x={x} y={y1} color="#4cb04c" width={1.1} />
      <Series data={eBz} x={x} y={y2} color="#9c4a44" width={1.1} />
      <Series data={eB} x={x} y={y3} color="#1c1c5c" width={1.1} />
      <Series data={eN} x={x} y={y4} color="#b044b4" width={1.1} />
      <YAxis x={121.5} y={y1} top={752.7} bottom={841.7} minor={range(-470, -430, 5)} major={ticksVx} {...ax} />
      <YAxis x={119.5} y={y2} top={858.3} bottom={948.3} minor={range(-12, 4, 2)} major={ticksBzE} {...ax} />
      <YAxis x={119.5} y={y3} top={968.3} bottom={1058.3} minor={range(12, 13.2, 0.2)} major={ticksBE} {...ax} />
      <YAxis x={119.5} y={y4} top={1078.3} bottom={1170} minor={range(7.5, 10, 0.5)} major={ticksNE} {...ax} />
      <XAxis y={841.7} x={x} segs={[[121.5, 566]]} ticks={tk.slice(1)} minLen={11} />
      <XAxis y={948.3} x={x} segs={[[119.5, 566]]} ticks={tk} minLen={11} />
      <XAxis y={1058.3} x={x} segs={[[119.5, 566]]} ticks={tk} minLen={11} />
      <XAxis y={1170} x={x} segs={[[119.5, 566]]} ticks={tk} majors={[0, 10]} minLen={13} majLen={23} />
      <TimeLabels x={x} y={1227} ts={[0, 10]} labels={timesE} bold={false} size={19} fill="#444" />
      <text x={574} y={1184} fontFamily={SANS} fontSize={17} fill="#333">UT</text>
      <rect x={x(mdsE[0])} y={763.3} width={x(mdsE[1]) - x(mdsE[0])} height={1169 - 763.3} fill="none" stroke="#222" strokeWidth={1.3} />
      <VTitle x={29} y={797} segs={[{ t: "km/s" }]} size={20} fill="#4a5530" />
      <VTitle x={29} y={903} segs={[{ t: "nT" }]} size={21} fill="#4a5530" />
      <VTitle x={29} y={994} segs={[{ t: "nT" }]} size={21} fill="#4a5530" />
      <VTitle x={29} y={1110} segs={[{ t: "cm" }, { t: "-3", sup: true }]} size={21} fill="#4a5530" />
      <Rich x={350} y={757} segs={[{ t: "microDS" }]} size={21} fill="#333" />
      <text x={535} y={756} fontFamily={SANS} fontSize={18} fill="#333">18.05.2013</text>
      <Rich x={516} y={784} segs={[{ t: "e", i: true }]} size={26} fill="#5e5e34" />
      <Rich x={140} y={769} segs={[{ t: "Wind" }]} size={21} />
      <Rich x={140} y={830} segs={[{ t: "V", i: true }, { t: "x", sub: true, i: true }]} size={21} />
      <Rich x={179} y={902} segs={[{ t: "r", i: true }, { t: "(" }, { t: "B", i: true }, { t: "z", sub: true, i: true }, { t: ", " }, { t: "N", i: true }, { t: ") = 0.14" }]} size={21.5} />
      <Rich x={140} y={922} segs={[{ t: "B", i: true }, { t: "z", sub: true, i: true }]} size={21} />
      <Rich x={165} y={1024} segs={[{ t: "r", i: true }, { t: "(" }, { t: "B", i: true }, { t: ", " }, { t: "B", i: true }, { t: "z", sub: true, i: true }, { t: ") = – 0.49" }]} size={22} fill="#2a2a20" />
      <Rich x={138} y={1037} segs={[{ t: "B", i: true }]} size={21} />
      <Rich x={168} y={1097} segs={[{ t: "r", i: true }, { t: "(" }, { t: "B", i: true }, { t: ", " }, { t: "N", i: true }, { t: ") = – 0.79" }]} size={22} fill="#2a2a20" />
      <Rich x={142} y={1115} segs={[{ t: "N", i: true }]} size={21} />
      <Rich x={373} y={1162} segs={[{ t: "m", i: true, b: true }]} size={30} fill="#d42a2a" />
    </g>
  );
}

function PanelF() {
  const x = d3.scaleLinear().domain([0, 15]).range([679, 1125.5]);
  const y1 = d3.scaleLinear().domain([-8, 4]).range([899.3, 796]);
  const y2 = d3.scaleLinear().domain([11.6, 13.6]).range([1034, 922.7]);
  const y3 = d3.scaleLinear().domain([4, 7]).range([1171.7, 1059.3]);
  const tk = range(0, 15, 1);
  const ax = { bold: false, size: 17, majLen: 20, minLen: 10, gap: 12, color: "#333" };
  const ac = "#4d6a2c";
  return (
    <g>
      <Series data={fBz} x={x} y={y1} color="#151515" width={1.1} />
      <Series data={fB} x={x} y={y2} color="#151515" width={1.1} />
      <Series data={fN} x={x} y={y3} color="#9a3838" width={1.1} />
      <YAxis x={678.5} y={y1} top={788} bottom={899.3} minor={range(-8, 4, 2)} major={ticksBzF} {...ax} />
      <YAxis x={678.5} y={y2} top={920} bottom={1034} minor={range(11.6, 13.6, 0.2)} major={ticksBF} {...ax} />
      <YAxis x={678.5} y={y3} top={1057} bottom={1171.7} minor={range(4, 7, 0.5)} major={ticksNF} {...ax} />
      <XAxis y={899.3} x={x} segs={[[678.5, 1125.5]]} ticks={tk} minLen={11} />
      <XAxis y={1034} x={x} segs={[[678.5, 1125.5]]} ticks={tk} minLen={11} />
      <XAxis y={1171.7} x={x} segs={[[678.5, 1125.5]]} ticks={tk} majors={[0, 10]} minLen={13} majLen={23} />
      <TimeLabels x={x} y={1222} ts={[0, 10]} labels={timesF} bold={false} size={19} fill="#444" />
      <text x={1138} y={1183} fontFamily={SANS} fontSize={17} fill="#333">UT</text>
      <rect x={x(mdsF[0])} y={772.7} width={x(mdsF[1]) - x(mdsF[0])} height={1165.7 - 772.7} fill="none" stroke="#66768a" strokeWidth={1.3} />
      <VTitle x={596} y={855} segs={[{ t: "nT" }]} size={21} fill="#4a5530" />
      <VTitle x={596} y={972} segs={[{ t: "nT" }]} size={21} fill="#4a5530" />
      <VTitle x={596} y={1092} segs={[{ t: "cm" }, { t: "-3", sup: true }]} size={21} fill="#4a5530" />
      <Rich x={920} y={764} segs={[{ t: "microDS" }]} size={21} fill="#333" />
      <text x={718} y={781} fontFamily={SANS} fontSize={18} fill="#333">THB</text>
      <Rich x={1078} y={774} segs={[{ t: "f", i: true }]} size={26} fill="#5e5e34" />
      <Rich x={709} y={865} segs={[{ t: "B", i: true }, { t: "z", sub: true, i: true }]} size={21} />
      <Rich x={711} y={954} segs={[{ t: "B", i: true }]} size={21} />
      <Rich x={908} y={928} segs={[{ t: "d", i: true }, { t: "i", sub: true, i: true }]} size={19} />
      <Rich x={960} y={946} segs={[{ t: "d", i: true }, { t: "m", sub: true, i: true }]} size={19} />
      <line x1={897} x2={915} y1={934} y2={934} stroke={ac} strokeWidth={1.4} />
      <path d="M917,934 L910,931 L910,937 Z" fill={ac} />
      <line x1={941} x2={925} y1={934} y2={934} stroke={ac} strokeWidth={1.4} />
      <path d="M922,934 L929,931 L929,937 Z" fill={ac} />
      <line x1={924} x2={1005} y1={954} y2={954} stroke={ac} strokeWidth={1.6} />
      <path d="M922,954 L930,950.5 L930,957.5 Z" fill={ac} />
      <path d="M1008,954 L1000,950.5 L1000,957.5 Z" fill={ac} />
      <Rich x={744} y={1084} segs={[{ t: "r", i: true }, { t: "(" }, { t: "N", i: true }, { t: ", " }, { t: "B", i: true }, { t: ") = – 0.84" }]} size={21.5} />
      <Rich x={713} y={1105} segs={[{ t: "N", i: true }]} size={21} />
      <Rich x={949} y={1160} segs={[{ t: "m", i: true, b: true }]} size={30} fill="#d42a2a" />
    </g>
  );
}

export default function App() {
  return (
    <div style={{ position: "absolute", left: 0, top: 0, background: "#fff" }}>
      <svg width={1173} height={1234} viewBox="0 0 1173 1234" style={{ display: "block", background: "#fff" }}>
        <rect x={0} y={0} width={1173} height={1234} fill="#fff" />
        <PanelA />
        <PanelB />
        <PanelC />
        <PanelD />
        <PanelE />
        <PanelF />
      </svg>
    </div>
  );
}
